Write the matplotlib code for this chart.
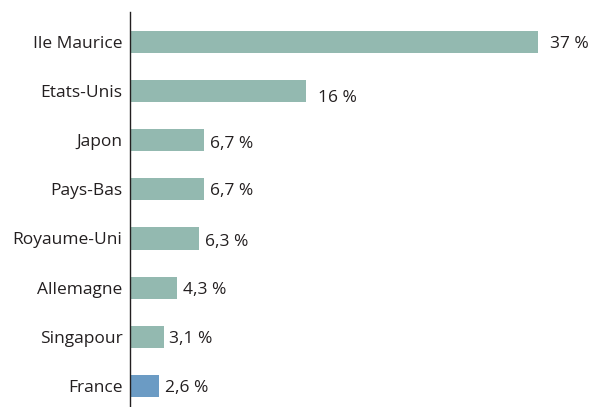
import matplotlib
matplotlib.use("Agg")
import matplotlib.pyplot as plt

categories = ["Ile Maurice", "Etats-Unis", "Japon", "Pays-Bas", "Royaume-Uni",
              "Allemagne", "Singapour", "France"]
values = [37, 16, 6.7, 6.7, 6.3, 4.3, 3.1, 2.6]
labels = ["37 %", "16 %", "6,7 %", "6,7 %", "6,3 %", "4,3 %", "3,1 %", "2,6 %"]

plt.rcParams['font.family'] = ['Open Sans', 'DejaVu Sans']

W, H = 595, 407
fig = plt.figure(figsize=(W / 100, H / 100), dpi=100)
ax = fig.add_axes([130 / W, 0, 1 - 130 / W, (407 - 12) / H])

colors = ["#93b9b0"] * 7 + ["#6b9bc4"]
ypos = list(range(len(categories)))
ax.barh(ypos, values, height=0.45, color=colors)

px_per_unit = 408 / 37
ax.set_xlim(0, (W - 130) / px_per_unit)
ax.set_ylim(7.43, -0.61)

offsets = [12, 12, 6, 6, 6, 6, 5, 6]
dy = [-2, -7, -4, -2, -4, -2, -2, -2]
for y, v, lab, off, d in zip(ypos, values, labels, offsets, dy):
    ax.annotate(lab, (v, y), xytext=(off * 0.72, d * 0.72), textcoords="offset points",
                ha="left", va="center", fontsize=12.5, color="#231f20")

ax.set_yticks(ypos)
ax.set_yticklabels(categories, fontsize=12.5, color="#231f20")
ax.tick_params(axis="y", length=0, pad=5.5)
ax.set_xticks([])
for s in ["top", "right", "bottom"]:
    ax.spines[s].set_visible(False)
ax.spines["left"].set_color("#231f20")
ax.spines["left"].set_linewidth(1.0)

fig.savefig("out.png", dpi=100)
